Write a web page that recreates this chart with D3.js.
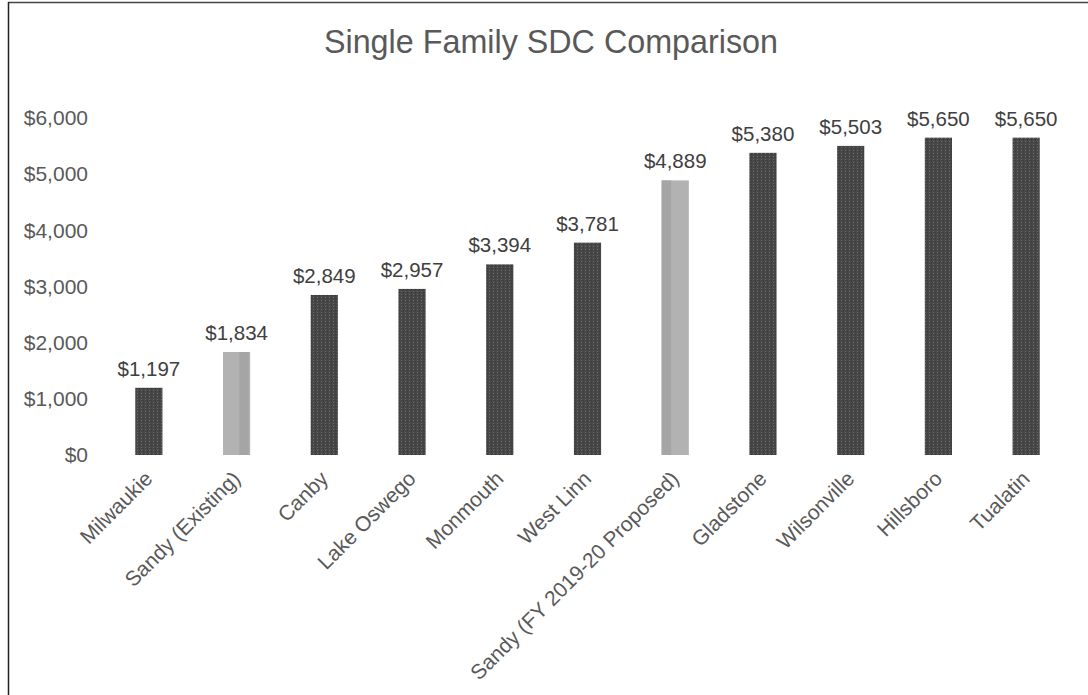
<!DOCTYPE html>
<html>
<head>
<meta charset="utf-8">
<script src="https://cdn.jsdelivr.net/npm/d3@7"></script>
<style>
  html, body { margin: 0; padding: 0; background: #fff; }
  svg { display: block; font-family: "Liberation Sans", Arial, sans-serif; }
</style>
</head>
<body>
<svg id="chart" width="1088" height="695"></svg>
<script>
// Single family system development charges by city
const cities = [
  "Milwaukie", "Sandy (Existing)", "Canby", "Lake Oswego", "Monmouth",
  "West Linn", "Sandy (FY 2019-20 Proposed)", "Gladstone", "Wilsonville",
  "Hillsboro", "Tualatin"
];
const charges = [1197, 1834, 2849, 2957, 3394, 3781, 4889, 5380, 5503, 5650, 5650];
// Sandy's own charges are drawn in the lighter shade
const highlighted = ["Sandy (Existing)", "Sandy (FY 2019-20 Proposed)"];
const yTicks = [0, 1000, 2000, 3000, 4000, 5000, 6000];
const chartTitle = "Single Family SDC Comparison";

const svg = d3.select("#chart");
const W = 1088, H = 695;
const plot = { left: 105, right: 1070, top: 118, bottom: 455 };

const fmt = d3.format("$,.0f");

const x = d3.scaleBand()
  .domain(cities)
  .range([plot.left, plot.right])
  .paddingInner(0.69)
  .paddingOuter(0.345);

const y = d3.scaleLinear()
  .domain([0, 6000])
  .range([plot.bottom, plot.top]);

// Fill pattern: dotted dark fill
const defs = svg.append("defs");
const dark = defs.append("pattern")
  .attr("id", "darkFill")
  .attr("patternUnits", "userSpaceOnUse")
  .attr("width", 4).attr("height", 3);
dark.append("rect").attr("width", 4).attr("height", 3).attr("fill", "#474747");
dark.append("rect").attr("x", 1).attr("y", 0).attr("width", 1).attr("height", 1).attr("fill", "#6c6c6c");
dark.append("rect").attr("x", 3).attr("y", 1).attr("width", 1).attr("height", 1).attr("fill", "#383838");

// Frame (top and left edges)
svg.append("line").attr("x1", 8).attr("x2", W).attr("y1", 2.5).attr("y2", 2.5)
  .attr("stroke", "#444").attr("stroke-width", 1.5);
svg.append("line").attr("x1", 8.5).attr("x2", 8.5).attr("y1", 2).attr("y2", H)
  .attr("stroke", "#222").attr("stroke-width", 1.5);

// Title
svg.append("text")
  .attr("x", 551).attr("y", 53)
  .attr("text-anchor", "middle")
  .attr("font-size", 32.3)
  .attr("fill", "#595959")
  .text(chartTitle);

// Y axis (labels only)
const yAxis = d3.axisLeft(y)
  .tickValues(yTicks)
  .tickFormat(fmt)
  .tickSize(0)
  .tickPadding(0);
const yG = svg.append("g")
  .attr("transform", `translate(${88},0)`)
  .call(yAxis);
yG.select(".domain").remove();
yG.selectAll("text")
  .attr("font-size", 21)
  .attr("fill", "#595959")
  .attr("font-family", "Liberation Sans, Arial, sans-serif");

// Bars
const bars = svg.append("g");
cities.forEach((c, i) => {
  const bx = x(c), bw = x.bandwidth();
  const top = y(charges[i]);
  const h = y(0) - top;
  if (highlighted.includes(c)) {
    bars.append("rect")
      .attr("x", bx).attr("y", top).attr("width", bw).attr("height", h)
      .attr("fill", "#b2b2b2");
    // slightly darker band inside the light bar
    const left = i < 3 ? bx + bw * 0.6 : bx;
    bars.append("rect")
      .attr("x", left).attr("y", top).attr("width", bw * 0.35).attr("height", h)
      .attr("fill", "#a5a5a5");
  } else {
    bars.append("rect")
      .attr("x", bx).attr("y", top).attr("width", bw).attr("height", h)
      .attr("fill", "url(#darkFill)");
  }
});

// Value labels
svg.append("g")
  .selectAll("text")
  .data(cities)
  .join("text")
  .attr("x", d => x(d) + x.bandwidth() / 2)
  .attr("y", (d, i) => y(charges[i]) - 12)
  .attr("text-anchor", "middle")
  .attr("font-size", 20.5)
  .attr("fill", "#404040")
  .text((d, i) => fmt(charges[i]));

// X axis category labels, rotated
const xAxis = d3.axisBottom(x).tickSize(0).tickPadding(0);
const xG = svg.append("g")
  .attr("transform", `translate(0,${plot.bottom})`)
  .call(xAxis);
xG.select(".domain").remove();
xG.selectAll(".tick text")
  .attr("font-size", 21)
  .attr("fill", "#595959")
  .attr("font-family", "Liberation Sans, Arial, sans-serif")
  .attr("text-anchor", "end")
  .attr("dy", 0)
  .attr("transform", "translate(5,25) rotate(-45)");
</script>
</body>
</html>
